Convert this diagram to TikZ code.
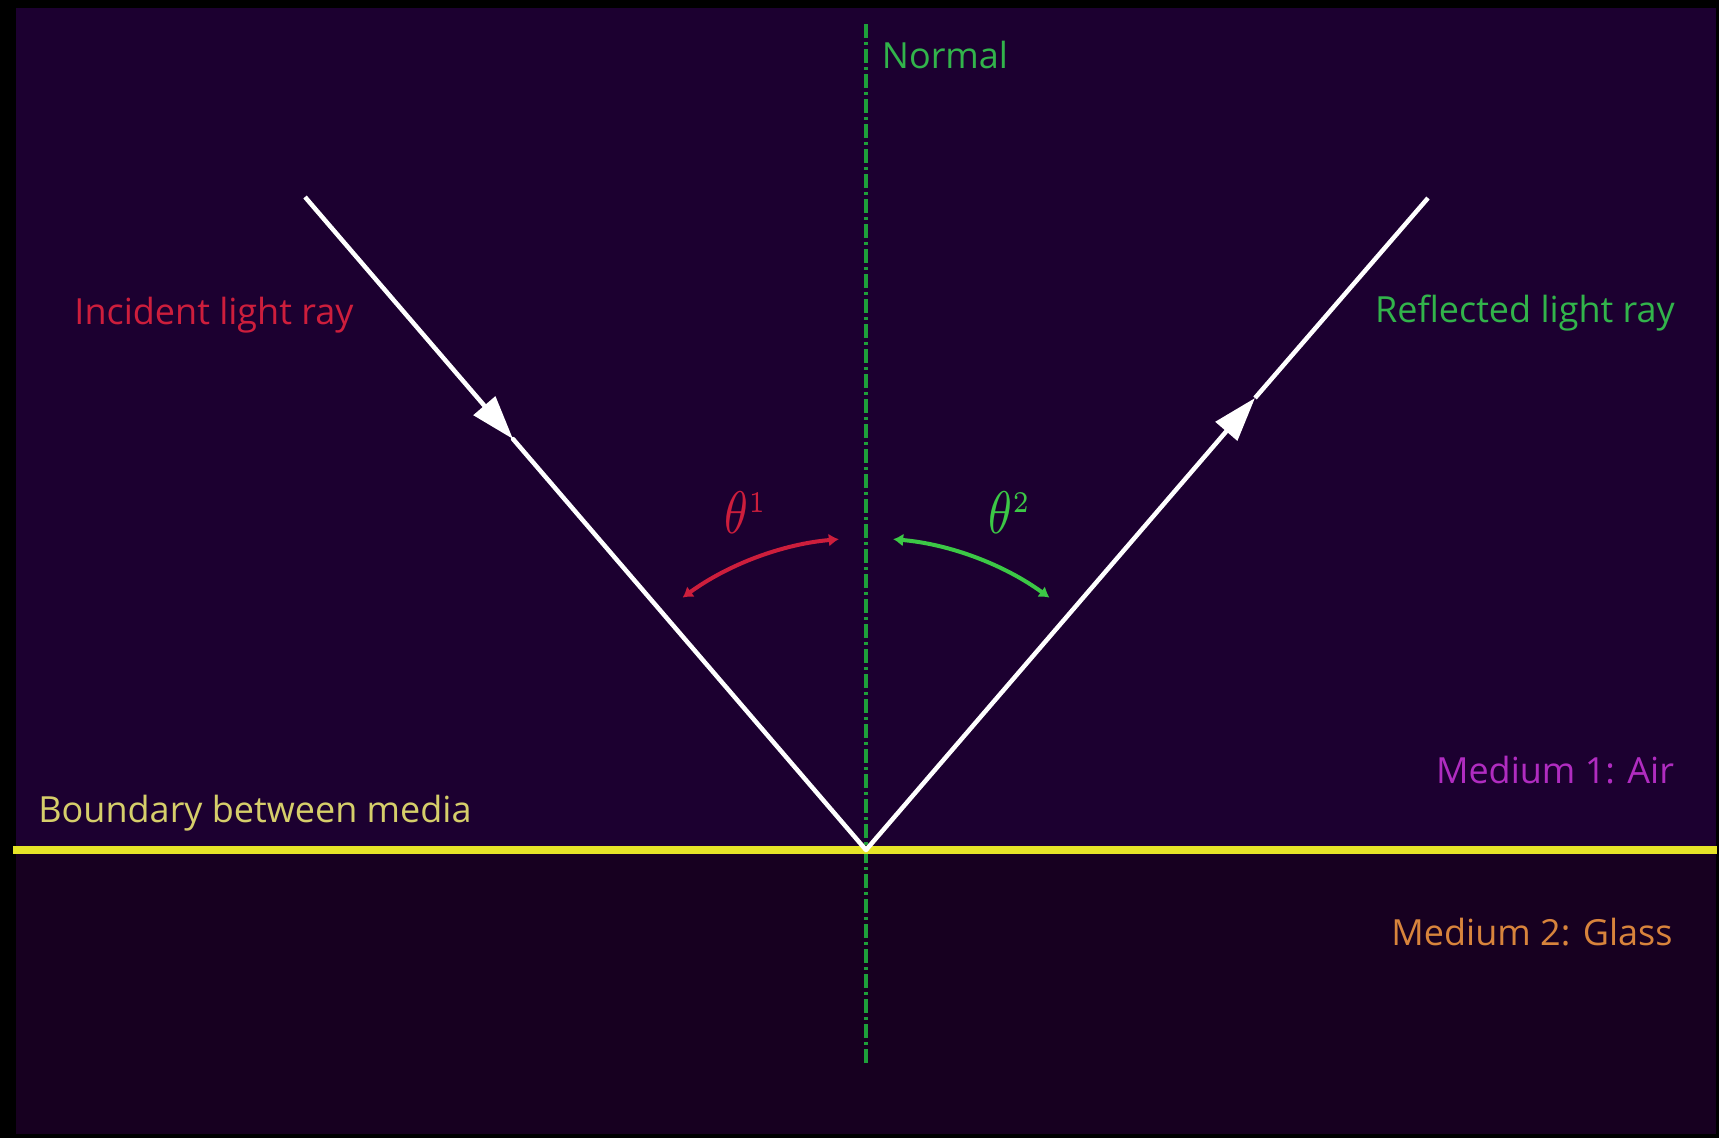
\documentclass[tikz,border=0pt]{standalone}
\usepackage{fontspec}
\setmainfont{Open Sans}
\usetikzlibrary{arrows.meta}
\definecolor{bgtop}{RGB}{28,0,48}
\definecolor{bgbot}{RGB}{23,0,32}
\definecolor{normalgreen}{RGB}{30,160,58}
\definecolor{labgreen}{RGB}{50,180,75}
\definecolor{arcgreen}{RGB}{60,200,70}
\definecolor{rayred}{RGB}{205,30,60}
\definecolor{bndyellow}{RGB}{230,228,40}
\definecolor{bndtext}{RGB}{214,206,106}
\definecolor{airmag}{RGB}{176,44,192}
\definecolor{glassor}{RGB}{216,132,60}
\begin{document}
\begin{tikzpicture}[x=1pt,y=1pt,
  lab/.style={font=\fontsize{36}{42}\selectfont, inner sep=0pt},
  ray/.style={draw=white, line width=4.5pt},
  rayarrow/.style={ray, -{Triangle[length=44pt,width=28pt]}},
  anglearc/.style={line width=4pt, {Latex[length=10pt,width=13pt]}-{Latex[length=10pt,width=13pt]}},
  thetalab/.style={inner sep=0pt}]
\useasboundingbox (0,0) rectangle (1719,-1138);
\fill[black] (0,0) rectangle (1719,-1138);
\fill[bgtop] (16,-8) rectangle (1716,-850);
\fill[bgbot] (16,-850) rectangle (1716,-1134);

% normal
\coordinate (ntop) at (866,-24);
\coordinate (nbot) at (866,-1063);
\draw[normalgreen, line width=4pt, dash pattern=on 14pt off 4pt on 3pt off 4pt] (ntop) -- (nbot);

% boundary
\coordinate (bl) at (13,-850);
\coordinate (br) at (1717,-850);
\draw[bndyellow, line width=8pt] (bl) -- (br);

% rays
\coordinate (V) at (866,-850);
\coordinate (inS) at (305,-197);
\coordinate (inT) at (513,-439);
\coordinate (reE) at (1428,-198);
\coordinate (reT) at (1255,-398);
\draw[rayarrow] (inS) -- (inT);
\draw[ray, line cap=round] (inT) -- (V);
\draw[rayarrow] (V) -- (reT);
\draw[ray] (reT) -- (reE);

% angle arcs
\draw[anglearc, rayred] ([shift={(126:312)}]V) arc[start angle=126, end angle=95, radius=312];
\draw[anglearc, arcgreen] ([shift={(85:312)}]V) arc[start angle=85, end angle=54, radius=312];

% labels
\node[lab, text=labgreen] (normal) at (945,-55) {Normal};
\node[lab, text=rayred] (incident) at (214,-315) {Incident light ray};
\node[lab, text=labgreen] (reflected) at (1525,-313) {Reflected light ray};
\node[lab, text=airmag] (air) at (1555,-770) {Medium 1: Air};
\node[lab, text=glassor] (glass) at (1532,-932) {Medium 2: Glass};
\node[lab, text=bndtext] (boundary) at (255,-813) {Boundary between media};
\node[thetalab, text=rayred] (th1) at (746,-513) {\scalebox{4.8}[6]{$\theta^{\scriptscriptstyle 1}$}};
\node[thetalab, text=arcgreen] (th2) at (1010,-513) {\scalebox{4.8}[6]{$\theta^{\scriptscriptstyle 2}$}};
\end{tikzpicture}
\end{document}
